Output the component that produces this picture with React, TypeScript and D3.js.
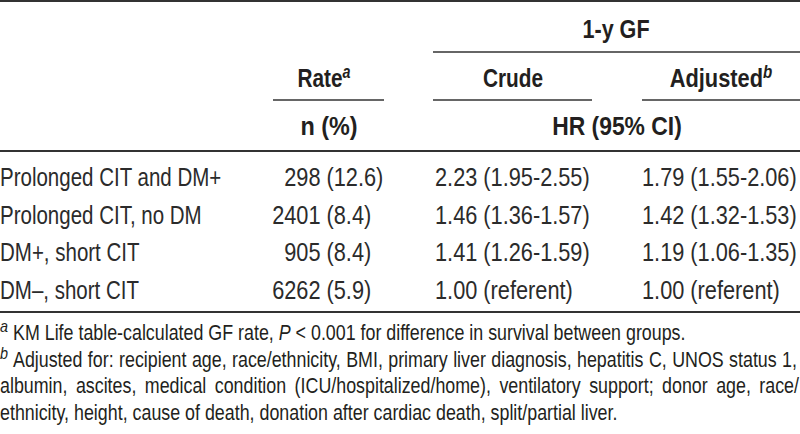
import React, { useEffect, useRef } from "react";
import * as d3 from "d3";

const W = 800;
const H = 434;

const groups = ["Prolonged CIT and DM+", "Prolonged CIT, no DM", "DM+, short CIT", "DM–, short CIT"];
const counts = [298, 2401, 905, 6262];
const ratePct = [12.6, 8.4, 8.4, 5.9];
const crudeHR = [2.23, 1.46, 1.41, 1.0];
const crudeLo: (number | null)[] = [1.95, 1.36, 1.26, null];
const crudeHi: (number | null)[] = [2.55, 1.57, 1.59, null];
const adjHR = [1.79, 1.42, 1.19, 1.0];
const adjLo: (number | null)[] = [1.55, 1.32, 1.06, null];
const adjHi: (number | null)[] = [2.06, 1.53, 1.35, null];

const footA = ["KM Life table-calculated GF rate, ", "P", " < 0.001 for difference in survival between groups."];
const footB = [
  "Adjusted for: recipient age, race/ethnicity, BMI, primary liver diagnosis, hepatitis C, UNOS status 1,",
  "albumin, ascites, medical condition (ICU/hospitalized/home), ventilatory support; donor age, race/",
  "ethnicity, height, cause of death, donation after cardiac death, split/partial liver.",
];

const FONT = "'Liberation Sans','Arial',sans-serif";
const INK = "#231f20";
const BODY_INK = "#2b2b2b";
const RULE = "#333";

const fmt = d3.format(".2f");
const hrText = (hr: number, lo: number | null, hi: number | null) =>
  lo == null || hi == null ? `${fmt(hr)} (referent)` : `${fmt(hr)} (${fmt(lo)}-${fmt(hi)})`;

type TProps = {
  x: number;
  y: number;
  sx: number;
  anchor?: "start" | "middle" | "end";
  size: number;
  bold?: boolean;
  italic?: boolean;
  className?: string;
  width?: number;
  fill?: string;
  children: React.ReactNode;
};

function T({ x, y, sx, anchor = "start", size, bold, italic, className, width, fill = INK, children }: TProps) {
  return (
    <text
      className={className}
      data-width={width}
      data-sx={sx}
      transform={`translate(${x},${y}) scale(${sx},1)`}
      textAnchor={anchor}
      fontFamily={FONT}
      fontSize={size}
      fontWeight={bold ? 700 : 400}
      fontStyle={italic ? "italic" : "normal"}
      fill={fill}
    >
      {children}
    </text>
  );
}

export default function App() {
  const ref = useRef<SVGSVGElement>(null);

  const y = d3.scalePoint<string>().domain(groups).range([186, 299]);
  const footY = d3.scalePoint<number>().domain([0, 1, 2, 3]).range([340, 420]);

  useEffect(() => {
    if (!ref.current) return;
    d3.select(ref.current)
      .selectAll<SVGTextElement, unknown>("text.justify")
      .each(function () {
        const el = this;
        el.setAttribute("word-spacing", "0");
        const target = +(el.getAttribute("data-width") || 0);
        const sx = +(el.getAttribute("data-sx") || 1);
        const len = el.getComputedTextLength();
        const spaces = ((el.textContent || "").match(/ /g) || []).length;
        if (spaces > 0) el.setAttribute("word-spacing", String((target / sx - len) / spaces));
      });
  }, []);

  const BS = 25; // body size
  const LSX = 0.82; // label scale
  const NSX = 0.87; // number scale
  const HS = 26; // header size
  const FS = 21.5; // footnote size
  const FSX = 0.83;

  return (
    <div style={{ position: "absolute", left: 0, top: 0 }}>
      <svg ref={ref} width={W} height={H} style={{ display: "block", background: "#fff" }}>
        {/* rules */}
        <line x1={0} x2={W} y1={1} y2={1} stroke={RULE} strokeWidth={2} />
        <line x1={433} x2={W} y1={52} y2={52} stroke={RULE} strokeWidth={1.5} />
        <line x1={273} x2={384} y1={100} y2={100} stroke={RULE} strokeWidth={1.5} />
        <line x1={433} x2={592} y1={100} y2={100} stroke={RULE} strokeWidth={1.5} />
        <line x1={642} x2={W} y1={100} y2={100} stroke={RULE} strokeWidth={1.5} />
        <line x1={0} x2={W} y1={151} y2={151} stroke={RULE} strokeWidth={2} />
        <line x1={0} x2={W} y1={312} y2={312} stroke={RULE} strokeWidth={2} />

        {/* header */}
        <T x={616} y={38} sx={0.83} anchor="middle" size={HS} bold>1-y GF</T>
        <T x={324} y={87} sx={0.8} anchor="middle" size={HS} bold>
          Rate<tspan fontStyle="italic" fontSize={18} dy={-9}>a</tspan>
        </T>
        <T x={513} y={87} sx={0.8} anchor="middle" size={HS} bold>Crude</T>
        <T x={721} y={87} sx={0.84} anchor="middle" size={HS} bold>
          Adjusted<tspan fontStyle="italic" fontSize={18} dy={-9}>b</tspan>
        </T>
        <T x={329} y={135} sx={0.9} anchor="middle" size={HS} bold>n (%)</T>
        <T x={617} y={135} sx={0.88} anchor="middle" size={HS} bold>HR (95% CI)</T>

        {/* body */}
        {groups.map((g, i) => (
          <g key={g}>
            <T x={0} y={y(g)!} sx={LSX} size={BS} fill={BODY_INK}>{g}</T>
            <T x={320.5} y={y(g)!} sx={NSX} anchor="end" size={BS} fill={BODY_INK}>{counts[i]}</T>
            <T x={326.5} y={y(g)!} sx={NSX} size={BS} fill={BODY_INK}>({ratePct[i].toFixed(1)})</T>
            <T x={435} y={y(g)!} sx={NSX} size={BS} fill={BODY_INK}>{hrText(crudeHR[i], crudeLo[i], crudeHi[i])}</T>
            <T x={642} y={y(g)!} sx={NSX} size={BS} fill={BODY_INK}>{hrText(adjHR[i], adjLo[i], adjHi[i])}</T>
          </g>
        ))}

        {/* footnotes */}
        <T x={0} y={footY(0)! - 8} sx={0.9} size={16} italic>a</T>
        <T x={13} y={footY(0)!} sx={FSX} size={FS}>
          {footA[0]}
          <tspan fontStyle="italic">{footA[1]}</tspan>
          {footA[2]}
        </T>
        <T x={0} y={footY(1)! - 8} sx={0.9} size={16} italic>b</T>
        <T x={13} y={footY(1)!} sx={FSX} size={FS} className="justify" width={784}>
          {footB[0]}
        </T>
        <T x={0} y={footY(2)!} sx={FSX} size={FS} className="justify" width={799}>
          {footB[1]}
        </T>
        <T x={0} y={footY(3)!} sx={FSX} size={FS}>
          {footB[2]}
        </T>
      </svg>
    </div>
  );
}
